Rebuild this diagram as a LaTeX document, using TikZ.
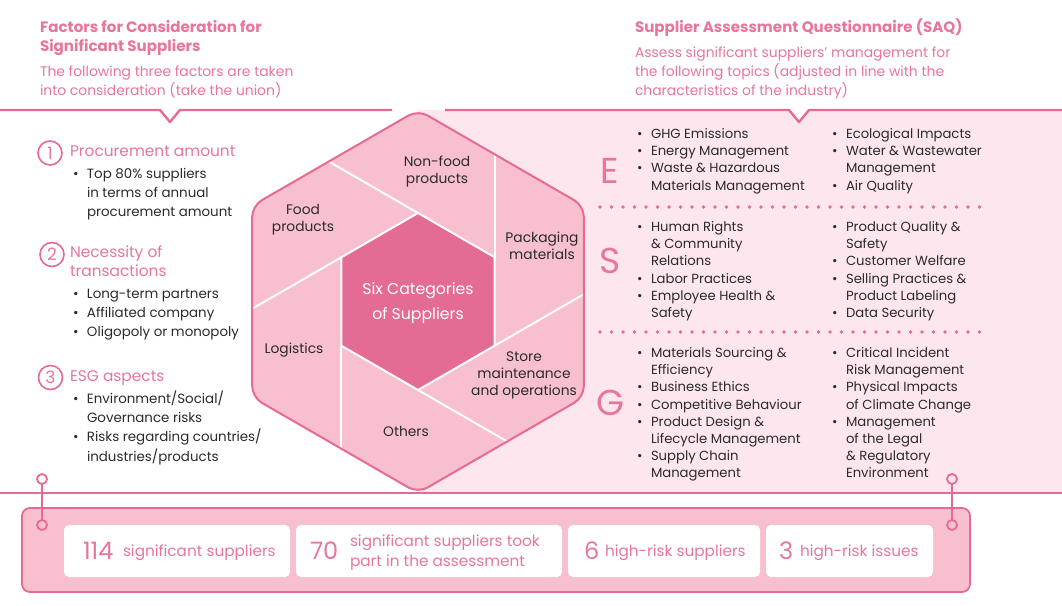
\documentclass[tikz,border=0pt]{standalone}
\usepackage{fontspec}
\setmainfont{Poppins}
\usetikzlibrary{calc}
\definecolor{pk}{HTML}{E66A92}
\definecolor{pkt}{HTML}{E8769C}
\definecolor{lpk}{HTML}{FDE6EE}
\definecolor{mpk}{HTML}{F8BFCF}
\definecolor{dpk}{HTML}{E36B94}
\definecolor{txt}{HTML}{2B2B2B}
\newcommand\fs[2]{\fontsize{#1}{#2}\selectfont}
\newcommand\bul{\makebox[14pt][l]{•}}
\newcommand\mylines[1]{\begin{tabular}[t]{@{}l@{}}#1\end{tabular}}
\newcommand\mycent[1]{\begin{tabular}[t]{@{}c@{}}#1\end{tabular}}
\newcommand\mybul[1]{\begin{tabular}[t]{@{}l@{}l@{}}#1\end{tabular}}
\tikzset{
 ttl/.style={anchor=base west, text=pkt, font=\fs{15.1}{19}\bfseries},
 subt/.style={anchor=base west, text=pkt, font=\fs{13.9}{19}},
 hd/.style={anchor=base west, text=pkt, font=\fs{15.4}{19}},
 lst/.style={anchor=base west, text=txt, font=\fs{13.4}{19.2}},
 esg/.style={anchor=base west, text=txt, font=\fs{13.2}{17.2}},
 hexlbl/.style={anchor=base, text=txt, font=\fs{13.8}{17}},
 bigl/.style={anchor=base, text=pkt, font=\fs{36}{36}},
 numc/.style={circle, draw=pk, line width=1.6pt, minimum size=24pt, text=pkt, font=\fs{17}{17}},
 ring/.style={circle, draw=pk, line width=1.8pt, minimum size=10pt},
 wbox/.style={fill=white, rounded corners=5pt, minimum height=52pt},
 bignum/.style={anchor=base west, text=pkt, font=\fs{24}{24}},
 stat/.style={anchor=base west, text=pkt, font=\fs{15.3}{20}},
 hline/.style={draw=pk, line width=2.4pt, line join=round},
 dotrow/.style={draw=pk, line width=3.6pt, line cap=round, dash pattern=on 0pt off 11.5pt},
 wline/.style={draw=white, line width=2pt},
}
\begin{document}
\begin{tikzpicture}[x=1pt,y=-1pt, every node/.style={inner sep=0pt, outer sep=0pt}]
\fill[white] (0,0) rectangle (1062,605);
\useasboundingbox (0,0) rectangle (1062,605);

% light pink region
\fill[lpk] (418,110) -- (789,110) -- (799,122) -- (809,110) -- (1062,110) -- (1062,493) -- (418,493) -- cycle;

% hexagon coordinates
\coordinate (oT) at (418,110);
\coordinate (oUR) at (583.8,205.75);
\coordinate (oLR) at (583.8,397.25);
\coordinate (oB) at (418,493);
\coordinate (oLL) at (252.2,397.25);
\coordinate (oUL) at (252.2,205.75);
\coordinate (iT) at (418,213);
\coordinate (iUR) at (494.6,257.25);
\coordinate (iLR) at (494.6,345.75);
\coordinate (iB) at (418,390);
\coordinate (iLL) at (341.4,345.75);
\coordinate (iUL) at (341.4,257.25);
\coordinate (p1) at (328.8,161.5);
\coordinate (p2) at (252.2,308.8);
\coordinate (p3) at (341.4,448.8);
\coordinate (p4) at (507.2,441.5);
\coordinate (p5) at (583.8,294.2);
\coordinate (p6) at (494.6,154.2);

\fill[mpk, rounded corners=11pt] (oT) -- (oUR) -- (oLR) -- (oB) -- (oLL) -- (oUL) -- cycle;
\draw[wline] (iT) -- (p1);
\draw[wline] (iUL) -- (p2);
\draw[wline] (iLL) -- (p3);
\draw[wline] (iB) -- (p4);
\draw[wline] (iLR) -- (p5);
\draw[wline] (iUR) -- (p6);
\filldraw[fill=dpk, wline] (iT) -- (iUR) -- (iLR) -- (iB) -- (iLL) -- (iUL) -- cycle;
\draw[pk, line width=2pt, rounded corners=11pt] (oT) -- (oUR) -- (oLR) -- (oB) -- (oLL) -- (oUL) -- cycle;

% header and bottom lines
\draw[hline] (0,110) -- (160,110) -- (170,122) -- (180,110) -- (392,110);
\draw[hline] (445,110) -- (789,110) -- (799,122) -- (809,110) -- (1062,110);
\draw[hline] (0,493) -- (1062,493);

% hexagon labels
\node[hexlbl] (nonfood) at (437,166.5) {\mycent{Non-food\\products}};
\node[hexlbl] (food) at (303,214.5) {\mycent{Food\\products}};
\node[hexlbl] (pack) at (542,242.5) {\mycent{Packaging\\materials}};
\node[hexlbl] (logi) at (294,353.5) {Logistics};
\node[hexlbl] (store) at (524,361.5) {\mycent{Store\\maintenance\\and operations}};
\node[hexlbl] (others) at (406,436.5) {Others};
\node[anchor=base, text=white, font=\fs{15.7}{25}] (six) at (418,294.5) {\mycent{Six Categories\\of Suppliers}};

% left titles
\node[ttl] (lt) at (40,32.5) {\mylines{Factors for Consideration for\\Significant Suppliers}};
\node[subt] (ls) at (40,76.5) {\mylines{The following three factors are taken\\into consideration (take the union)}};

\node[numc] (n1) at (50,153) {1};
\node[hd] (h1) at (70,156.5) {Procurement amount};
\node[lst] (l1) at (73,178.5) {\mybul{\bul&Top 80\% suppliers\\&in terms of annual\\&procurement amount}};

\node[numc] (n2) at (52,254.5) {2};
\node[hd] (h2) at (70,257.5) {\mylines{Necessity of\\transactions}};
\node[lst] (l2) at (73,298.5) {\mybul{\bul&Long-term partners\\\bul&Affiliated company\\\bul&Oligopoly or monopoly}};

\node[numc] (n3) at (50.5,377.5) {3};
\node[hd] (h3) at (70,381.5) {ESG aspects};
\node[lst] (l3) at (73,403.5) {\mybul{\bul&Environment/Social/\\&Governance risks\\\bul&Risks regarding countries/\\&industries/products}};

% right titles
\node[ttl] (rt) at (635,32.5) {Supplier Assessment Questionnaire (SAQ)};
\node[subt] (rs) at (635,57.5) {\mylines{Assess significant suppliers’ management for\\the following topics (adjusted in line with the\\characteristics of the industry)}};

% ESG
\node[bigl] (E) at (610,183.6) {E};
\node[bigl] (S) at (610,273.6) {S};
\node[bigl] (G) at (610,415.6) {G};

\node[esg] (e1) at (637,138.5) {\mybul{\bul&GHG Emissions\\\bul&Energy Management\\\bul&Waste \& Hazardous\\&Materials Management}};
\node[esg] (e2) at (832,138.5) {\mybul{\bul&Ecological Impacts\\\bul&Water \& Wastewater\\&Management\\\bul&Air Quality}};
\draw[dotrow] (600,207) -- (980,207);
\node[esg] (s1) at (637,231.5) {\mybul{\bul&Human Rights\\&\& Community\\&Relations\\\bul&Labor Practices\\\bul&Employee Health \&\\&Safety}};
\node[esg] (s2) at (832,231.5) {\mybul{\bul&Product Quality \&\\&Safety\\\bul&Customer Welfare\\\bul&Selling Practices \&\\&Product Labeling\\\bul&Data Security}};
\draw[dotrow] (600,332) -- (980,332);
\node[esg] (g1) at (637,357.5) {\mybul{\bul&Materials Sourcing \&\\&Efficiency\\\bul&Business Ethics\\\bul&Competitive Behaviour\\\bul&Product Design \&\\&Lifecycle Management\\\bul&Supply Chain\\&Management}};
\node[esg] (g2) at (832,357.5) {\mybul{\bul&Critical Incident\\&Risk Management\\\bul&Physical Impacts\\&of Climate Change\\\bul&Management\\&of the Legal\\&\& Regulatory\\&Environment}};

% bottom bar
\node[fill=mpk, draw=pk, line width=1.8pt, rounded corners=8pt, minimum width=948pt, minimum height=84pt] (bar) at (496,550) {};
\node[ring] (cl1) at (42,479) {};
\node[ring] (cl2) at (42,525) {};
\node[ring] (cr1) at (952,479) {};
\node[ring] (cr2) at (952,525) {};
\draw[pk, line width=1.8pt] (cl1) -- (cl2);
\draw[pk, line width=1.8pt] (cr1) -- (cr2);

\node[wbox, minimum width=226pt] (b1) at (177,551) {};
\node[wbox, minimum width=266pt] (b2) at (429,551) {};
\node[wbox, minimum width=192pt] (b3) at (664,551) {};
\node[wbox, minimum width=167pt] (b4) at (849.5,551) {};

\node[bignum] (k1) at (83,559.5) {114};
\node[stat] (t1) at (123,556.5) {significant suppliers};
\node[bignum] (k2) at (310,559.5) {70};
\node[stat] (t2) at (350,546.5) {\mylines{significant suppliers took\\part in the assessment}};
\node[bignum] (k3) at (584,559.5) {6};
\node[stat] (t3) at (605,556.5) {high-risk suppliers};
\node[bignum] (k4) at (779,559.5) {3};
\node[stat] (t4) at (800,556.5) {high-risk issues};
\end{tikzpicture}
\end{document}
